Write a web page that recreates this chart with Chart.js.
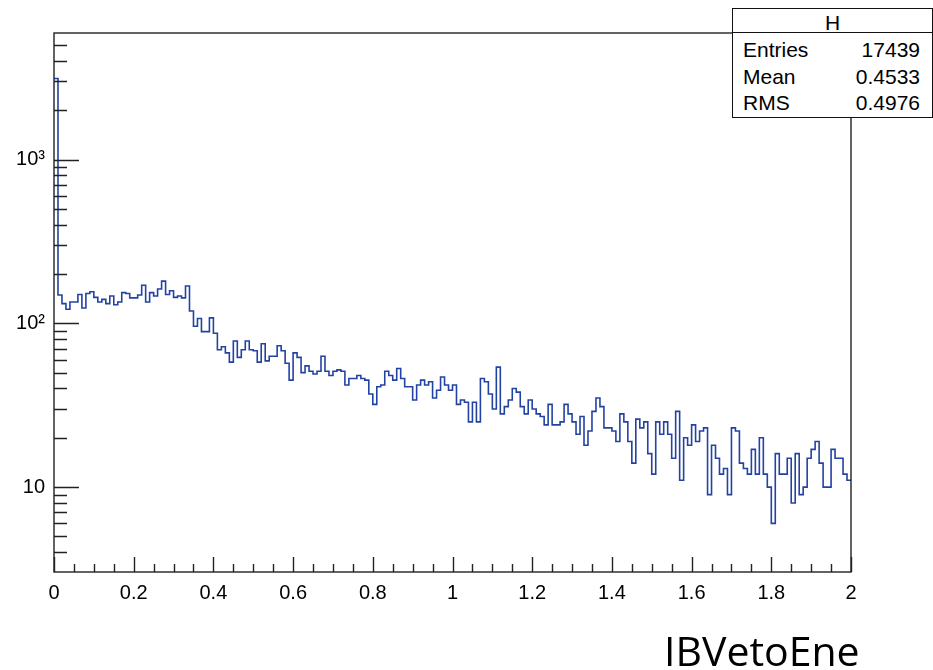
<!DOCTYPE html>
<html lang="en">
<head>
  <meta charset="UTF-8">
  <title>IBVetoEne</title>
  <script src="https://cdn.jsdelivr.net/npm/chart.js"></script>
  <style>
    body {
      margin: 0;
      background: #fff;
    }
    #wrap {
      position: relative;
      width: 933px;
      height: 670px;
      font-family: "Liberation Sans", Arial, sans-serif;
    }
    #hist {
      position: absolute;
      left: 0;
      top: 0;
    }
    #stats {
      position: absolute;
      left: 732px;
      top: 8px;
      width: 199px;
      height: 108px;
      border: 1px solid #111;
      background: #fff;
      font-size: 21px;
      line-height: 20px;
      color: #000;
    }
    #stats .row {
      position: absolute;
      left: 10px;
      right: 12px;
    }
    #stats .row span:last-child {
      float: right;
    }
    #stats .sep {
      position: absolute;
      left: 0;
      right: 0;
      top: 23px;
      height: 1px;
      background: #111;
    }
    #title {
      position: absolute;
      left: 664px;
      top: 630px;
      font-family: "Open Sans", sans-serif;
      font-size: 41px;
      line-height: 40px;
      color: #000;
      white-space: nowrap;
    }
  </style>
</head>
<body>
  <div id="wrap">
    <canvas id="hist" width="933" height="670"></canvas>
    <div id="stats"></div>
    <div id="title">IBVetoEne</div>
  </div>

  <script>
    // histogram H: 200 bins over [0, 2]
    const xMin = 0;
    const xMax = 2;
    const counts = [
      3130, 149, 132, 122, 135, 135, 150, 124, 152, 156,
      144, 135, 140, 132, 147, 130, 135, 154, 152, 143,
      143, 149, 171, 135, 154, 147, 162, 181, 150, 158,
      144, 147, 143, 169, 119, 96, 107, 89, 89, 108,
      87, 69, 72, 66, 58, 78, 62, 69, 78, 69,
      68, 58, 75, 59, 63, 63, 73, 68, 57, 45,
      66, 62, 50, 55, 51, 49, 51, 63, 51, 48,
      51, 52, 51, 42, 46, 46, 48, 46, 45, 37,
      32, 41, 42, 51, 48, 45, 53, 46, 41, 41,
      34, 42, 45, 42, 44, 35, 39, 47, 42, 39,
      42, 32, 34, 33, 25, 33, 25, 46, 44, 37,
      30, 54, 28, 31, 34, 40, 38, 31, 28, 34,
      30, 28, 27, 24, 32, 24, 24, 25, 32, 28,
      25, 21, 27, 18, 22, 29, 35, 31, 23, 23,
      22, 19, 28, 25, 19, 14, 26, 23, 25, 16,
      12, 25, 21, 25, 21, 15, 29, 11, 20, 18,
      24, 19, 22, 23, 9, 18, 15, 12, 13, 9,
      23, 22, 14, 13, 12, 17, 12, 20, 12, 10,
      6, 16, 12, 12, 15, 8, 16, 9, 10, 15,
      17, 19, 14, 10, 10, 17, 15, 15, 12, 11
    ];

    const xMajorTicks = [0, 0.2, 0.4, 0.6, 0.8, 1, 1.2, 1.4, 1.6, 1.8, 2];
    const xTickLabels = ['0', '0.2', '0.4', '0.6', '0.8', '1', '1.2', '1.4', '1.6', '1.8', '2'];
    const xMinorTicks = [0.05, 0.1, 0.15, 0.25, 0.3, 0.35, 0.45, 0.5, 0.55, 0.65, 0.7, 0.75,
      0.85, 0.9, 0.95, 1.05, 1.1, 1.15, 1.25, 1.3, 1.35, 1.45, 1.5, 1.55,
      1.65, 1.7, 1.75, 1.85, 1.9, 1.95];

    const yMin = 3.03;
    const yMax = 5930;
    const yMajorTicks = [10, 100, 1000];
    const yTickLabels = ['10', '10²', '10³'];
    const yMinorTicks = [4, 5, 6, 7, 8, 9, 20, 30, 40, 50, 60, 70, 80, 90,
      200, 300, 400, 500, 600, 700, 800, 900, 2000, 3000, 4000, 5000];

    const statNames = ['Entries', 'Mean', 'RMS'];
    const statValues = ['17439', '0.4533', '0.4976'];

    // stats box
    const stats = document.getElementById('stats');
    stats.innerHTML = '<div class="row" style="top:4px;text-align:center;left:0;right:0">H</div><div class="sep"></div>';
    statNames.forEach((name, i) => {
      const row = document.createElement('div');
      row.className = 'row';
      row.style.top = (31 + i * 26.5) + 'px';
      row.innerHTML = `<span>${name}</span><span>${statValues[i]}</span>`;
      stats.appendChild(row);
    });

    // one point per bin at its lower edge, plus the upper edge of the last bin.
    // 'before' stepping draws the flat part at the previous point's height
    const binWidth = (xMax - xMin) / counts.length;
    const points = counts.map((c, i) => ({ x: xMin + i * binWidth, y: c }));
    points.push({ x: xMax, y: counts[counts.length - 1] });

    // ROOT style frame with ticks pointing into the pad
    const frameTicks = {
      id: 'frameTicks',
      afterDraw(chart) {
        const { ctx, chartArea: a, scales: { x, y } } = chart;
        ctx.save();
        ctx.strokeStyle = '#222';
        ctx.lineWidth = 1.4;
        ctx.beginPath();
        yMajorTicks.forEach(v => {
          const p = Math.round(y.getPixelForValue(v)) + 0.5;
          ctx.moveTo(a.left, p);
          ctx.lineTo(a.left + 25, p);
        });
        yMinorTicks.forEach(v => {
          const p = Math.round(y.getPixelForValue(v)) + 0.5;
          ctx.moveTo(a.left, p);
          ctx.lineTo(a.left + 13, p);
        });
        xMajorTicks.forEach(v => {
          const p = Math.round(x.getPixelForValue(v)) + 0.5;
          ctx.moveTo(p, a.bottom);
          ctx.lineTo(p, a.bottom - 15);
        });
        xMinorTicks.forEach(v => {
          const p = Math.round(x.getPixelForValue(v)) + 0.5;
          ctx.moveTo(p, a.bottom);
          ctx.lineTo(p, a.bottom - 8);
        });
        ctx.stroke();
        ctx.strokeRect(a.left, a.top, a.right - a.left, a.bottom - a.top);
        ctx.restore();
      }
    };

    const ctx = document.getElementById('hist').getContext('2d');
    new Chart(ctx, {
      type: 'line',
      data: {
        datasets: [{
          label: 'H',
          data: points,
          borderColor: '#2343a3',
          borderWidth: 1.6,
          stepped: 'before',
          pointRadius: 0,
          fill: false
        }]
      },
      options: {
        responsive: false,
        animation: false,
        layout: {
          padding: { left: 0, top: 33, right: 82, bottom: 0 }
        },
        plugins: {
          legend: { display: false },
          tooltip: { enabled: false }
        },
        scales: {
          x: {
            type: 'linear',
            min: xMin,
            max: xMax,
            grid: { display: false, drawTicks: false },
            border: { display: false },
            afterBuildTicks: s => { s.ticks = xMajorTicks.map(v => ({ value: v })); },
            afterFit: s => { s.height = 98; },
            ticks: {
              padding: 9,
              color: '#000',
              autoSkip: false,
              maxRotation: 0,
              font: { family: 'Liberation Sans', size: 20 },
              callback: (v, i) => xTickLabels[i]
            }
          },
          y: {
            type: 'logarithmic',
            min: yMin,
            max: yMax,
            grid: { display: false, drawTicks: false },
            border: { display: false },
            afterBuildTicks: s => { s.ticks = yMajorTicks.map(v => ({ value: v })); },
            afterFit: s => { s.width = 54; },
            ticks: {
              padding: 9,
              color: '#000',
              autoSkip: false,
              font: { family: 'Liberation Sans', size: 20 },
              callback: (v, i) => yTickLabels[i]
            }
          }
        }
      },
      plugins: [frameTicks]
    });
  </script>
</body>
</html>
